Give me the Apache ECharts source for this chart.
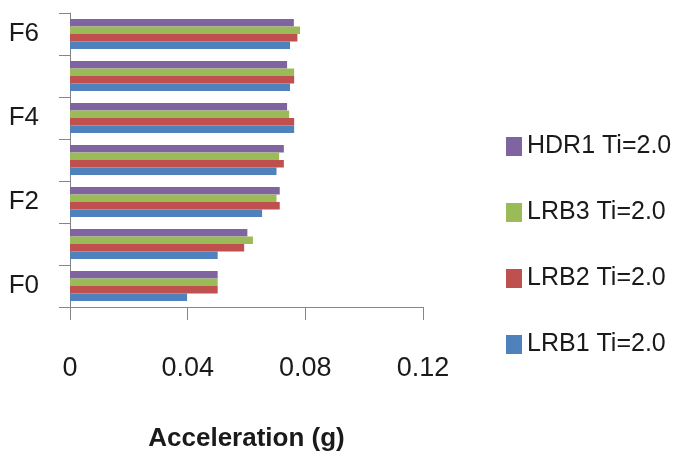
<!DOCTYPE html>
<html>
<head>
<meta charset="utf-8">
<script src="https://cdn.jsdelivr.net/npm/echarts@6/dist/echarts.min.js"></script>
<style>
html,body{margin:0;padding:0;background:#fff;}
#chart{width:678px;height:457px;}
</style>
</head>
<body>
<div id="chart"></div>
<script>
var categories = ['F0', 'F1', 'F2', 'F3', 'F4', 'F5', 'F6'];
var lrb1 = [0.0398, 0.0502, 0.0653, 0.0702, 0.0762, 0.0748, 0.0748];
var lrb2 = [0.0502, 0.0592, 0.0713, 0.0727, 0.0762, 0.0762, 0.0773];
var lrb3 = [0.0502, 0.0622, 0.0702, 0.0711, 0.0745, 0.0762, 0.0782];
var hdr1 = [0.0502, 0.0603, 0.0713, 0.0727, 0.0738, 0.0738, 0.0761];
var seriesNames = ['HDR1 Ti=2.0', 'LRB3 Ti=2.0', 'LRB2 Ti=2.0', 'LRB1 Ti=2.0'];
var xTicks = [0, 0.04, 0.08, 0.12];
var axisTitle = 'Acceleration (g)';

var FONT = "'Liberation Sans', Arial, sans-serif";
var colors = ['#8064A2', '#9BBB59', '#C0504D', '#4F81BD'];
var values = [hdr1, lrb3, lrb2, lrb1];

var chart = echarts.init(document.getElementById('chart'));
var series = values.map(function (v, i) {
  return {
    name: seriesNames[i],
    type: 'bar',
    data: v,
    itemStyle: { color: colors[i] },
    barGap: '0%',
    barCategoryGap: '28%',
    animation: false
  };
});

chart.setOption({
  animation: false,
  color: colors,
  grid: { left: 70, right: 255, top: 13, bottom: 148, containLabel: false },
  legend: {
    orient: 'vertical',
    left: 501,
    top: 129,
    icon: 'rect',
    itemWidth: 16,
    itemHeight: 19,
    itemGap: 41,
    data: seriesNames,
    textStyle: { fontFamily: FONT, fontSize: 25, color: '#1a1a1a', lineHeight: 25 }
  },
  xAxis: {
    type: 'value',
    min: xTicks[0],
    max: xTicks[xTicks.length - 1],
    interval: xTicks[1] - xTicks[0],
    name: axisTitle,
    nameLocation: 'middle',
    nameGap: 119,
    nameTextStyle: { fontFamily: FONT, fontSize: 26, fontWeight: 'bold', color: '#1a1a1a' },
    axisLine: { show: true, lineStyle: { color: '#868686', width: 1 } },
    axisTick: { show: true, length: 13, lineStyle: { color: '#868686' } },
    splitLine: { show: false },
    axisLabel: {
      fontFamily: FONT, fontSize: 27, color: '#1a1a1a', margin: 48,
      formatter: function (v) { return String(Math.round(v * 100) / 100); }
    }
  },
  yAxis: {
    type: 'category',
    data: categories,
    axisLine: { show: true, lineStyle: { color: '#868686', width: 1 } },
    axisTick: { show: true, length: 11, interval: 0, lineStyle: { color: '#868686' } },
    axisLabel: { interval: 1, fontFamily: FONT, fontSize: 26, color: '#1a1a1a', margin: 31 }
  },
  series: series
});
</script>
</body>
</html>
